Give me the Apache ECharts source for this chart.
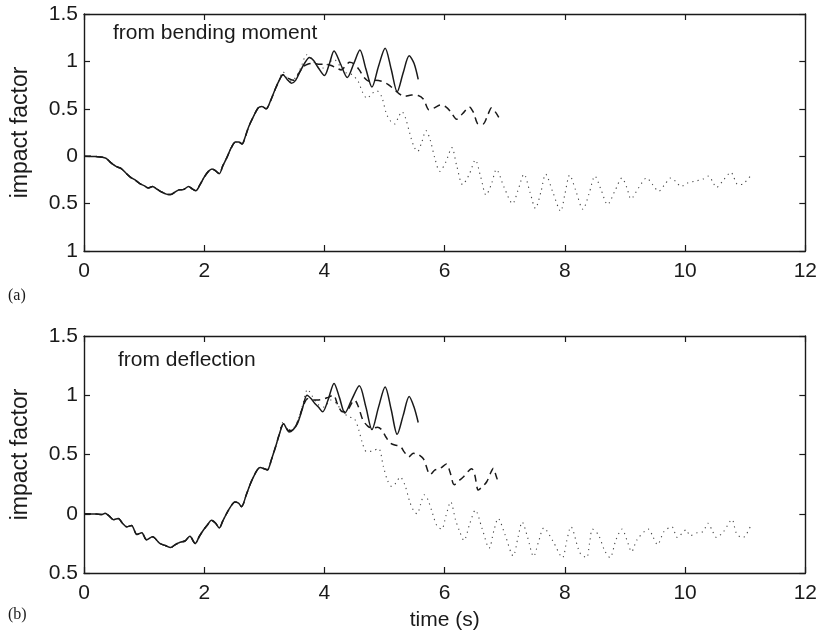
<!DOCTYPE html>
<html>
<head>
<meta charset="utf-8">
<title>impact factor</title>
<script src="https://cdn.jsdelivr.net/npm/echarts@6/dist/echarts.min.js"></script>
<style>
  html, body { margin: 0; padding: 0; background: #fff; }
  #chart { width: 820px; height: 633px; }
</style>
</head>
<body>
<div id="chart"></div>
<script>
// x ticks (s) and y ticks for both panels
const timeTicks = [0, 2, 4, 6, 8, 10, 12]
const yTicksA = [-1, -0.5, 0, 0.5, 1, 1.5]
const yTicksB = [-0.5, 0, 0.5, 1, 1.5]

// (a) from bending moment -- part shared by all three curves
const momentStart = [
  [0, 0], [0.2, -0.004], [0.36, -0.02], [0.45, -0.07], [0.54, -0.11], [0.62, -0.13],
  [0.7, -0.18], [0.77, -0.22], [0.85, -0.25], [0.93, -0.29], [1.0, -0.31], [1.07, -0.335],
  [1.14, -0.32], [1.22, -0.35], [1.3, -0.38], [1.37, -0.4], [1.44, -0.405], [1.51, -0.38],
  [1.58, -0.355], [1.66, -0.35], [1.74, -0.32], [1.8, -0.345], [1.86, -0.365], [1.93, -0.3],
  [2.0, -0.22], [2.07, -0.16], [2.13, -0.135], [2.19, -0.155], [2.25, -0.185], [2.31, -0.1],
  [2.38, -0.01], [2.45, 0.09], [2.52, 0.15], [2.57, 0.15], [2.63, 0.13], [2.68, 0.2],
  [2.74, 0.31], [2.82, 0.42], [2.9, 0.51], [2.96, 0.525], [3.03, 0.5], [3.1, 0.58],
  [3.17, 0.69], [3.24, 0.79]
]
const momentSolid = [
  [3.31, 0.86], [3.38, 0.81], [3.45, 0.77], [3.52, 0.8], [3.6, 0.9], [3.67, 0.98],
  [3.75, 1.04], [3.82, 1.01], [3.9, 0.93], [4.0, 0.85], [4.08, 0.97], [4.16, 1.11],
  [4.27, 0.97], [4.38, 0.83], [4.49, 0.98], [4.59, 1.12], [4.69, 0.92], [4.79, 0.73],
  [4.9, 0.95], [5.01, 1.14], [5.11, 0.92], [5.21, 0.68], [5.31, 0.88], [5.41, 1.06],
  [5.49, 0.98], [5.56, 0.81]
]
const momentDashed = [
  [3.31, 0.86], [3.4, 0.82], [3.48, 0.8], [3.56, 0.86], [3.64, 0.94], [3.72, 0.97],
  [3.8, 0.98], [3.9, 0.97], [4.0, 0.97], [4.1, 0.96], [4.2, 0.93], [4.28, 0.91],
  [4.36, 0.96], [4.42, 0.99], [4.5, 0.97], [4.58, 0.91], [4.66, 0.83], [4.75, 0.79],
  [4.85, 0.8], [4.95, 0.79], [5.05, 0.76], [5.15, 0.71], [5.24, 0.66], [5.33, 0.63],
  [5.45, 0.645], [5.56, 0.64], [5.65, 0.6], [5.74, 0.49], [5.83, 0.51], [5.93, 0.54],
  [6.02, 0.52], [6.1, 0.47], [6.2, 0.39], [6.3, 0.45], [6.41, 0.52], [6.48, 0.46],
  [6.56, 0.34], [6.64, 0.34], [6.72, 0.44], [6.78, 0.51], [6.84, 0.47], [6.9, 0.41]
]
const momentDotted = [
  [3.31, 0.89], [3.38, 0.83], [3.45, 0.79], [3.55, 0.86], [3.63, 0.97], [3.7, 1.07],
  [3.78, 1.03], [3.88, 0.95], [3.98, 0.93], [4.08, 0.99], [4.16, 1.02], [4.26, 0.95],
  [4.36, 0.88], [4.46, 0.86], [4.56, 0.79], [4.63, 0.68], [4.71, 0.61], [4.79, 0.66],
  [4.87, 0.69], [4.95, 0.63], [5.03, 0.45], [5.1, 0.37], [5.17, 0.34], [5.23, 0.41],
  [5.29, 0.47], [5.35, 0.4], [5.42, 0.24], [5.49, 0.1], [5.55, 0.05], [5.62, 0.15],
  [5.69, 0.27], [5.76, 0.17], [5.84, -0.03], [5.92, -0.16], [6.02, -0.06], [6.12, 0.09],
  [6.2, -0.1], [6.3, -0.3], [6.41, -0.19], [6.51, -0.04], [6.6, -0.22], [6.69, -0.41],
  [6.78, -0.29], [6.86, -0.14], [6.99, -0.33], [7.13, -0.5], [7.22, -0.36], [7.32, -0.19],
  [7.42, -0.38], [7.51, -0.55], [7.6, -0.38], [7.68, -0.19], [7.8, -0.38], [7.93, -0.58],
  [8.0, -0.4], [8.08, -0.2], [8.18, -0.36], [8.3, -0.56], [8.4, -0.4], [8.5, -0.21],
  [8.6, -0.35], [8.71, -0.51], [8.83, -0.37], [8.95, -0.23], [9.03, -0.33], [9.1, -0.45],
  [9.22, -0.34], [9.36, -0.23], [9.46, -0.3], [9.56, -0.37], [9.66, -0.3], [9.76, -0.23],
  [9.85, -0.27], [9.93, -0.32], [10.05, -0.28], [10.19, -0.26], [10.3, -0.24], [10.39, -0.21],
  [10.46, -0.27], [10.52, -0.33], [10.64, -0.25], [10.76, -0.17], [10.88, -0.3], [10.97, -0.29],
  [11.11, -0.19]
]

// (b) from deflection
const deflectionStart = [
  [0, 0], [0.2, -0.003], [0.3, -0.006], [0.35, 0.005], [0.42, -0.02], [0.49, -0.05],
  [0.57, -0.04], [0.64, -0.08], [0.71, -0.11], [0.79, -0.1], [0.88, -0.175], [0.96, -0.16],
  [1.04, -0.22], [1.14, -0.195], [1.26, -0.25], [1.36, -0.27], [1.44, -0.285], [1.52, -0.26],
  [1.6, -0.24], [1.68, -0.23], [1.76, -0.19], [1.85, -0.25], [1.92, -0.19], [1.99, -0.135],
  [2.06, -0.09], [2.12, -0.055], [2.19, -0.08], [2.25, -0.12], [2.31, -0.06], [2.37, 0.0],
  [2.44, 0.06], [2.51, 0.1], [2.57, 0.09], [2.62, 0.06], [2.7, 0.16], [2.8, 0.29],
  [2.93, 0.39], [3.0, 0.38], [3.05, 0.37], [3.12, 0.46], [3.19, 0.57], [3.25, 0.67]
]
const deflectionSolid = [
  [3.32, 0.76], [3.41, 0.69], [3.48, 0.71], [3.55, 0.76], [3.63, 0.88], [3.71, 1.0],
  [3.78, 0.97], [3.84, 0.93], [3.9, 0.9], [3.97, 0.86], [4.06, 0.96], [4.16, 1.1],
  [4.25, 0.98], [4.34, 0.85], [4.46, 0.97], [4.58, 1.08], [4.69, 0.9], [4.79, 0.71],
  [4.9, 0.9], [5.01, 1.07], [5.11, 0.88], [5.21, 0.67], [5.31, 0.83], [5.41, 0.99],
  [5.49, 0.9], [5.56, 0.77]
]
const deflectionDashed = [
  [3.32, 0.76], [3.41, 0.7], [3.48, 0.71], [3.56, 0.78], [3.64, 0.9], [3.72, 0.97],
  [3.8, 0.96], [3.88, 0.96], [3.96, 0.965], [4.05, 0.98], [4.15, 1.0], [4.22, 0.92],
  [4.3, 0.86], [4.38, 0.87], [4.45, 0.93], [4.5, 0.96], [4.56, 0.91], [4.64, 0.79],
  [4.72, 0.74], [4.8, 0.72], [4.88, 0.73], [4.95, 0.71], [5.02, 0.65], [5.09, 0.6],
  [5.17, 0.58], [5.26, 0.57], [5.33, 0.52], [5.4, 0.48], [5.48, 0.51], [5.56, 0.5],
  [5.65, 0.46], [5.76, 0.33], [5.84, 0.37], [5.92, 0.38], [6.03, 0.42], [6.09, 0.35],
  [6.16, 0.245], [6.24, 0.28], [6.31, 0.31], [6.45, 0.38], [6.5, 0.33], [6.56, 0.2],
  [6.63, 0.23], [6.7, 0.27], [6.77, 0.35], [6.81, 0.385], [6.85, 0.33], [6.9, 0.25]
]
const deflectionDotted = [
  [3.3, 0.77], [3.4, 0.71], [3.48, 0.72], [3.56, 0.79], [3.64, 0.92], [3.72, 1.05],
  [3.8, 0.99], [3.9, 0.92], [4.0, 0.9], [4.1, 0.96], [4.2, 0.93], [4.3, 0.86],
  [4.4, 0.82], [4.5, 0.8], [4.57, 0.71], [4.63, 0.6], [4.7, 0.525], [4.8, 0.53],
  [4.9, 0.55], [4.98, 0.4], [5.05, 0.28], [5.12, 0.23], [5.19, 0.26], [5.26, 0.31],
  [5.34, 0.24], [5.42, 0.1], [5.49, 0.02], [5.54, 0.0], [5.6, 0.08], [5.66, 0.16],
  [5.72, 0.12], [5.8, 0.0], [5.87, -0.1], [5.95, -0.13], [6.02, -0.02], [6.1, 0.1],
  [6.18, -0.05], [6.25, -0.15], [6.32, -0.225], [6.42, -0.08], [6.51, 0.03], [6.62, -0.12],
  [6.74, -0.29], [6.82, -0.14], [6.89, -0.04], [7.0, -0.17], [7.14, -0.355], [7.22, -0.2],
  [7.29, -0.07], [7.38, -0.2], [7.48, -0.36], [7.56, -0.24], [7.65, -0.12], [7.8, -0.23],
  [7.96, -0.37], [8.03, -0.23], [8.1, -0.11], [8.25, -0.33], [8.36, -0.37], [8.41, -0.25],
  [8.46, -0.13], [8.56, -0.18], [8.66, -0.31], [8.75, -0.37], [8.85, -0.22], [8.95, -0.13],
  [9.03, -0.22], [9.11, -0.32], [9.2, -0.22], [9.39, -0.13], [9.47, -0.2], [9.54, -0.26],
  [9.65, -0.15], [9.78, -0.11], [9.87, -0.2], [10.02, -0.135], [10.08, -0.185], [10.2, -0.16],
  [10.3, -0.15], [10.38, -0.08], [10.45, -0.14], [10.52, -0.2], [10.64, -0.15], [10.78, -0.05],
  [10.85, -0.16], [10.94, -0.2], [11.0, -0.19], [11.11, -0.08]
]

const FONT = 'Liberation Sans, Arial, Helvetica, sans-serif'
const SERIF = 'Liberation Serif, Times New Roman, serif'
const INK = '#1a1a1a'

function xAxisFor(grid, pos, showLabel, name) {
  return {
    type: 'value',
    gridIndex: grid,
    position: pos,
    min: timeTicks[0],
    max: timeTicks[timeTicks.length - 1],
    interval: 2,
    name: name || '',
    nameLocation: 'middle',
    nameGap: 37,
    nameTextStyle: { fontFamily: FONT, fontSize: 21, color: INK },
    axisLine: { show: true, onZero: false, lineStyle: { color: INK, width: 1.4 } },
    axisTick: { show: true, inside: true, length: 6, lineStyle: { color: INK, width: 1.2 } },
    axisLabel: { show: showLabel, margin: 10, fontFamily: FONT, fontSize: 21, color: INK },
    splitLine: { show: false }
  }
}

function yAxisFor(grid, pos, ticks, showLabel) {
  return {
    type: 'value',
    gridIndex: grid,
    position: pos,
    min: ticks[0],
    max: ticks[ticks.length - 1],
    interval: 0.5,
    name: showLabel ? 'impact factor' : '',
    nameLocation: 'middle',
    nameRotate: 90,
    nameGap: 52,
    nameTextStyle: { fontFamily: FONT, fontSize: 23, color: INK },
    axisLine: { show: true, onZero: false, lineStyle: { color: INK, width: 1.4 } },
    axisTick: { show: true, inside: true, length: 6, lineStyle: { color: INK, width: 1.2 } },
    axisLabel: {
      show: showLabel,
      margin: 6,
      fontFamily: FONT,
      fontSize: 21,
      color: INK,
      // the printed figure lost its minus signs
      formatter: function(v) { return String(Math.abs(v)) }
    },
    splitLine: { show: false }
  }
}

function line(data, axis, kind) {
  const s = {
    type: 'line',
    data: data,
    xAxisIndex: axis,
    yAxisIndex: axis,
    showSymbol: false,
    symbol: 'none',
    smooth: 0.3,
    silent: true,
    lineStyle: { color: INK, width: 1.5, type: 'solid' },
    z: 3
  }
  if (kind === 'dashed') {
    s.lineStyle = { color: INK, width: 1.5, type: [7, 5] }
    s.z = 2
  }
  if (kind === 'dotted') {
    s.lineStyle = { color: '#444', width: 1.1, type: [1.2, 4.2] }
    s.z = 1
  }
  return s
}

const chart = echarts.init(document.getElementById('chart'), null, { renderer: 'canvas' })

const option = {
  animation: false,
  backgroundColor: '#fff',
  grid: [
    { left: 84, top: 14, right: 14, height: 237 },
    { left: 84, top: 336, right: 14, height: 237 }
  ],
  title: [
    { text: 'from bending moment', left: 113, top: 23, padding: 0,
      textStyle: { fontFamily: FONT, fontSize: 21, fontWeight: 'normal', color: INK } },
    { text: 'from deflection', left: 118, top: 350, padding: 0,
      textStyle: { fontFamily: FONT, fontSize: 21, fontWeight: 'normal', color: INK } },
    { text: '(a)', left: 8, top: 288, padding: 0,
      textStyle: { fontFamily: SERIF, fontSize: 16, fontWeight: 'normal', color: INK } },
    { text: '(b)', left: 8, top: 607, padding: 0,
      textStyle: { fontFamily: SERIF, fontSize: 16, fontWeight: 'normal', color: INK } }
  ],
  xAxis: [
    xAxisFor(0, 'bottom', true),
    xAxisFor(0, 'top', false),
    xAxisFor(1, 'bottom', true, 'time (s)'),
    xAxisFor(1, 'top', false)
  ],
  yAxis: [
    yAxisFor(0, 'left', yTicksA, true),
    yAxisFor(0, 'right', yTicksA, false),
    yAxisFor(1, 'left', yTicksB, true),
    yAxisFor(1, 'right', yTicksB, false)
  ],
  series: [
    line(momentStart.concat(momentDotted), 0, 'dotted'),
    line(momentStart.concat(momentDashed), 0, 'dashed'),
    line(momentStart.concat(momentSolid), 0, 'solid'),
    line(deflectionStart.concat(deflectionDotted), 2, 'dotted'),
    line(deflectionStart.concat(deflectionDashed), 2, 'dashed'),
    line(deflectionStart.concat(deflectionSolid), 2, 'solid')
  ]
}

chart.setOption(option)
</script>
</body>
</html>
